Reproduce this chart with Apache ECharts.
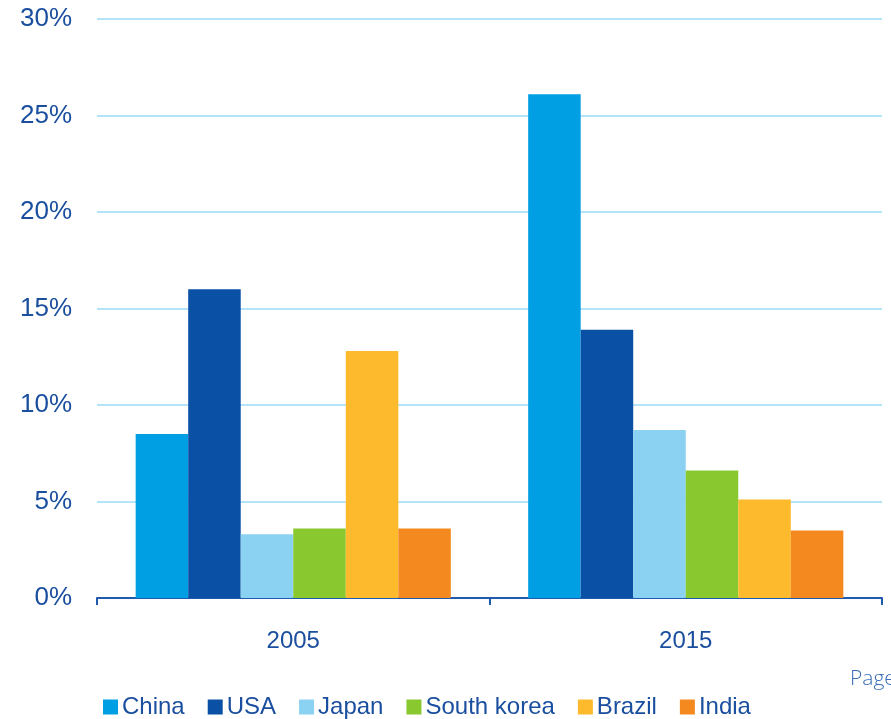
<!DOCTYPE html>
<html>
<head>
<meta charset="utf-8">
<style>
  html, body { margin: 0; padding: 0; background: #ffffff; }
  #chart { width: 891px; height: 719px; }
</style>
<script src="https://cdn.jsdelivr.net/npm/echarts@6/dist/echarts.min.js"></script>
</head>
<body>
<div id="chart"></div>
<script>
// Share by country, two reference years
const years = ['2005', '2015'];
const countries = ['China', 'USA', 'Japan', 'South korea', 'Brazil', 'India'];
const china = [8.5, 26.1];
const usa = [16.0, 13.9];
const japan = [3.3, 8.7];
const southKorea = [3.6, 6.6];
const brazil = [12.8, 5.1];
const india = [3.6, 3.5];
const yTicks = { min: 0, max: 30, interval: 5 };

const palette = ['#009FE3', '#0A50A4', '#8AD1F2', '#8AC830', '#FDBA2D', '#F48A1F'];
const valuesByCountry = [china, usa, japan, southKorea, brazil, india];
const textBlue = '#1A4E9E';
const font = '"Liberation Sans", Arial, sans-serif';

const chart = echarts.init(document.getElementById('chart'), null, { renderer: 'canvas' });

chart.setOption({
  animation: false,
  backgroundColor: '#ffffff',
  color: palette,
  grid: { left: 97, right: 9, top: 19, bottom: 121, containLabel: false },
  legend: {
    data: countries,
    left: 103,
    top: 695,
    padding: 0,
    itemWidth: 15,
    itemHeight: 15,
    itemGap: 23,
    icon: 'rect',
    textStyle: { color: textBlue, fontSize: 24, fontFamily: font, padding: [2, 0, 0, -1] }
  },
  xAxis: {
    type: 'category',
    data: years,
    axisLine: { show: true, lineStyle: { color: '#1F5AAE', width: 2 } },
    axisTick: { show: true, length: 7, alignWithLabel: false, lineStyle: { color: '#1F5AAE', width: 2 } },
    axisLabel: { color: textBlue, fontSize: 24, fontFamily: font, margin: 31 },
    splitLine: { show: false }
  },
  yAxis: {
    type: 'value',
    min: yTicks.min,
    max: yTicks.max,
    interval: yTicks.interval,
    axisLine: { show: false },
    axisTick: { show: false },
    axisLabel: { color: textBlue, fontSize: 26, fontFamily: font, margin: 25, formatter: '{value}%' },
    splitLine: { lineStyle: { color: '#B3E4F8', width: 2 } }
  },
  series: countries.map((name, i) => ({
    name: name,
    type: 'bar',
    data: valuesByCountry[i],
    barGap: '0%',
    barCategoryGap: '19.7%',
    itemStyle: { color: palette[i] }
  })),
  graphic: [{
    type: 'text',
    left: 850,
    top: 669,
    style: { text: 'Page', fill: '#3A6DB6', font: '300 21px "Open Sans", sans-serif' }
  }]
});
</script>
</body>
</html>
